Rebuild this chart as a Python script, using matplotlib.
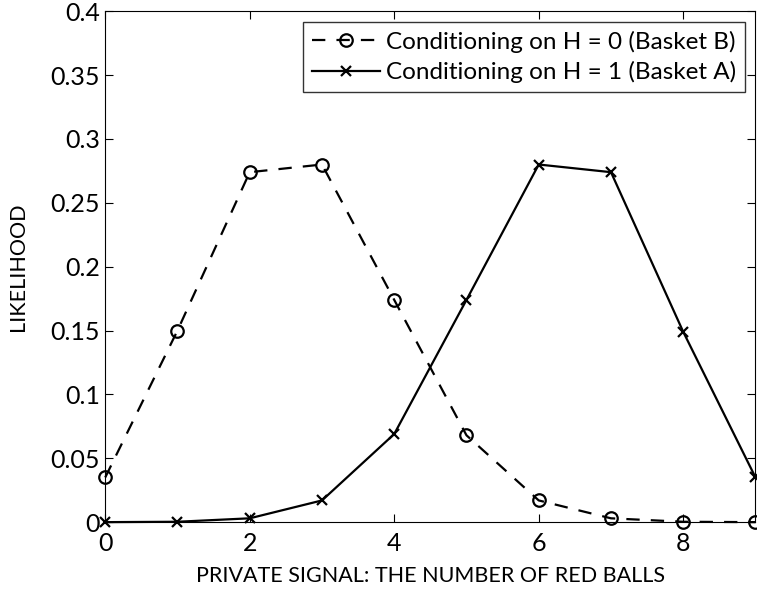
import numpy as np
import matplotlib.pyplot as plt

plt.rcParams['font.family'] = ['Lato', 'DejaVu Sans']

# Number of red balls in the private signal
signal = np.arange(10)

# Likelihood of each signal under the two states
lik_h0 = [0.035, 0.15, 0.274, 0.28, 0.174, 0.068, 0.017, 0.003, 0.0003, 0.0]
lik_h1 = [0.0, 0.0003, 0.003, 0.017, 0.069, 0.174, 0.28, 0.274, 0.149, 0.035]

label_h0 = "Conditioning on H = 0 (Basket B)"
label_h1 = "Conditioning on H = 1 (Basket A)"

fig = plt.figure(figsize=(7.57, 5.92), dpi=100)
ax = fig.add_axes([0.139, 0.118, 0.859, 0.863])

ax.plot(signal, lik_h0, "k--", marker="o", markersize=9, markerfacecolor="none",
        markeredgewidth=1.6, linewidth=1.6, dashes=(6, 5), label=label_h0, clip_on=False)
ax.plot(signal, lik_h1, "k-", marker="x", markersize=7, markeredgewidth=1.6,
        linewidth=1.6, label=label_h1, clip_on=False)

ax.set_xlim(0, 9)
ax.set_ylim(0, 0.4)
ax.set_xticks([0, 2, 4, 6, 8])
ax.set_yticks(np.arange(0, 0.41, 0.05))
ax.set_yticklabels(["0", "0.05", "0.1", "0.15", "0.2", "0.25", "0.3", "0.35", "0.4"])
ax.tick_params(direction="in", top=True, right=True, labelsize=18, length=6)
ax.tick_params(axis="x", pad=7)
ax.tick_params(axis="y", pad=4)
ax.set_xlabel("PRIVATE SIGNAL: THE NUMBER OF RED BALLS", fontsize=15.5, labelpad=8)
ax.set_ylabel("LIKELIHOOD", fontsize=15.5, labelpad=16)

leg = ax.legend(loc="upper right", fontsize=17.5, frameon=True, fancybox=False,
                edgecolor="black", handlelength=2.8, borderpad=0.35, labelspacing=0.35,
                handletextpad=0.25, borderaxespad=0.45)
leg.get_frame().set_linewidth(1.0)

fig.savefig("out.png", dpi=100)
